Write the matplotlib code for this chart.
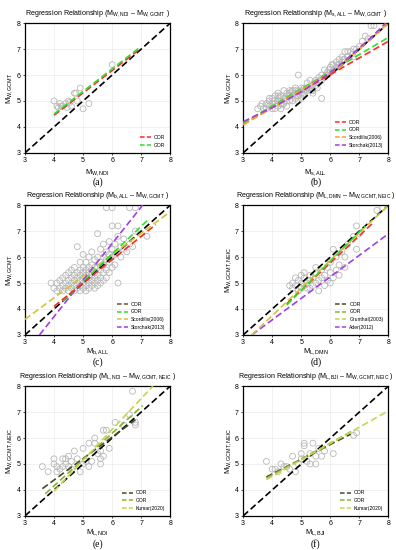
import matplotlib
matplotlib.use("Agg")
import matplotlib.pyplot as plt
from matplotlib.lines import Line2D

plt.rcParams['font.family'] = ['Liberation Sans', 'DejaVu Sans']
plt.rcParams['mathtext.fontset'] = 'custom'
plt.rcParams['mathtext.rm'] = 'Liberation Sans'
plt.rcParams['mathtext.it'] = 'Liberation Sans'

# ---- panel (a) MW,NDI vs MW,GCMT
a_x = [4.0, 4.1, 4.15, 4.2, 4.25, 4.3, 4.4, 4.45, 4.5, 4.55, 4.6, 4.7, 4.75, 4.8, 4.9, 5.0, 5.2, 6.0]
a_y = [5.0, 4.8, 4.75, 4.9, 4.8, 4.8, 4.9, 4.75, 5.0, 4.95, 4.8, 5.3, 5.3, 5.0, 5.5, 4.7, 4.9, 6.4]
a_oor = ([4.0, 6.9], [4.45, 6.95])
a_gor = ([4.0, 6.9], [4.5, 7.02])

# ---- panel (b) Ms,ALL vs MW,GCMT
b_x = [3.5, 3.6, 3.7, 3.8, 3.8, 3.9, 3.9, 4.0, 4.0, 4.0, 4.1, 4.1, 4.1, 4.2, 4.2, 4.2,
       4.3, 4.3, 4.3, 4.3, 4.4, 4.4, 4.4, 4.5, 4.5, 4.5, 4.5, 4.6, 4.6, 4.6, 4.7, 4.7,
       4.7, 4.8, 4.8, 4.8, 4.9, 4.9, 4.9, 5.0, 5.0, 5.0, 5.1, 5.1, 5.2, 5.2, 5.3, 5.3,
       5.4, 5.4, 5.5, 5.5, 5.6, 5.6, 5.7, 5.7, 5.8, 5.8, 5.9, 5.9, 6.0, 6.0, 6.1, 6.1,
       6.2, 6.2, 6.3, 6.3, 6.4, 6.4, 6.5, 6.5, 6.6, 6.7, 6.8, 6.9, 7.0, 7.1, 7.2, 7.4,
       7.5, 4.9, 5.7, 3.9, 4.2, 4.6, 4.8, 5.0, 5.2, 5.4, 6.6, 6.8, 7.3,
       3.65, 3.85, 4.05, 4.25, 4.35, 4.55, 4.65, 4.85, 4.95, 5.05, 5.15, 5.25, 5.35,
       5.45, 5.55, 5.65, 5.85, 5.95, 6.05, 6.25, 6.45, 6.75]
b_y = [4.7, 4.8, 4.7, 4.9, 4.7, 5.0, 4.8, 5.1, 4.9, 4.7, 5.2, 4.9, 4.7, 5.3, 5.0, 4.8,
       5.2, 5.0, 4.9, 4.7, 5.4, 5.1, 4.9, 5.3, 5.1, 5.0, 4.8, 5.4, 5.2, 5.0, 5.4, 5.2,
       5.0, 5.5, 5.3, 5.1, 5.4, 5.2, 5.0, 5.5, 5.3, 5.1, 5.5, 5.3, 5.7, 5.4, 5.8, 5.5,
       5.6, 5.4, 5.8, 5.6, 5.9, 5.7, 6.0, 5.8, 6.2, 5.9, 6.1, 6.0, 6.3, 6.1, 6.4, 6.2,
       6.5, 6.3, 6.6, 6.4, 6.7, 6.5, 6.9, 6.6, 6.9, 6.9, 7.0, 7.0, 7.1, 7.3, 7.5, 7.9,
       7.9, 6.0, 5.1, 5.1, 5.2, 5.3, 5.4, 5.4, 5.5, 5.3, 6.7, 6.7, 7.4,
       4.9, 4.85, 5.0, 5.15, 4.85, 5.2, 5.35, 5.2, 5.35, 5.25, 5.45, 5.5, 5.4,
       5.7, 5.5, 5.8, 6.0, 6.2, 6.4, 6.4, 6.6, 6.8]
b_oor = ([3, 8], [4.1, 7.3])
b_gor = ([3, 8], [4.15, 7.45])
b_scord = ([3, 6.1, 6.2, 8], [4.08, 6.16, 6.22, 8.0])
b_storc = ([3, 4, 5, 6, 6.5, 7, 7.5, 7.9], [4.2, 4.75, 5.35, 6.1, 6.55, 7.05, 7.55, 8.0])

# ---- panel (c) mb,ALL vs MW,GCMT
c_x = [3.9, 4.0, 4.1, 4.1, 4.2, 4.2, 4.3, 4.3, 4.3, 4.4, 4.4, 4.4, 4.5, 4.5, 4.5, 4.5,
       4.6, 4.6, 4.6, 4.6, 4.7, 4.7, 4.7, 4.7, 4.7, 4.8, 4.8, 4.8, 4.8, 4.8, 4.9, 4.9,
       4.9, 4.9, 4.9, 4.9, 5.0, 5.0, 5.0, 5.0, 5.0, 5.0, 5.1, 5.1, 5.1, 5.1, 5.1, 5.1,
       5.2, 5.2, 5.2, 5.2, 5.2, 5.2, 5.3, 5.3, 5.3, 5.3, 5.3, 5.3, 5.4, 5.4, 5.4, 5.4,
       5.4, 5.4, 5.5, 5.5, 5.5, 5.5, 5.5, 5.5, 5.6, 5.6, 5.6, 5.6, 5.6, 5.7, 5.7, 5.7,
       5.7, 5.7, 5.8, 5.8, 5.8, 5.8, 5.8, 5.9, 5.9, 5.9, 5.9, 6.0, 6.0, 6.0, 6.0, 6.0,
       6.1, 6.1, 6.1, 6.2, 6.2, 6.2, 6.2, 6.3, 6.3, 6.4, 6.4, 6.5, 6.6, 6.6, 6.7, 6.8,
       6.8, 7.0, 7.2]
c_y = [5.0, 4.8, 4.7, 5.0, 4.8, 5.1, 4.7, 4.9, 5.2, 4.8, 5.0, 5.3, 4.7, 4.9, 5.1, 5.4,
       4.8, 5.0, 5.2, 5.5, 4.7, 4.9, 5.1, 5.3, 5.6, 4.8, 5.0, 5.2, 5.4, 6.4, 4.7, 4.9,
       5.1, 5.3, 5.5, 5.8, 4.8, 5.0, 5.2, 5.4, 5.6, 6.1, 4.7, 4.9, 5.1, 5.3, 5.5, 5.8,
       4.8, 5.0, 5.2, 5.4, 5.6, 6.0, 4.9, 5.1, 5.3, 5.5, 5.7, 6.2, 4.8, 5.0, 5.2, 5.4,
       5.6, 5.9, 4.9, 5.1, 5.3, 5.6, 6.0, 6.9, 5.0, 5.2, 5.5, 5.8, 6.3, 5.1, 5.4, 5.7,
       6.0, 6.5, 5.2, 5.5, 5.9, 6.2, 7.9, 5.4, 5.8, 6.1, 6.6, 5.6, 6.0, 6.3, 7.2, 7.9,
       5.7, 6.1, 6.5, 5.0, 6.2, 6.8, 7.2, 6.0, 6.4, 6.3, 6.7, 6.2, 6.5, 7.9, 6.4, 7.0,
       7.9, 6.9, 6.8]
c_oor = ([4.0, 7.5], [4.1, 7.25])
c_gor = ([4.3, 7.2], [4.3, 7.4])
c_scord = ([3, 8], [3.6, 7.75])
c_storc = ([3.5, 7.05], [3.0, 8.0])

# ---- panel (d) ML,DMN vs MW,GCMT,NEIC
d_x = [4.6, 4.7, 4.7, 4.8, 4.9, 4.9, 5.0, 5.0, 5.0, 5.1, 5.1, 5.1, 5.2, 5.2, 5.3, 5.3,
       5.4, 5.4, 5.5, 5.5, 5.6, 5.6, 5.7, 5.7, 5.8, 5.8, 5.9, 5.9, 6.0, 6.0, 6.0, 6.1,
       6.1, 6.2, 6.2, 6.3, 6.3, 6.4, 6.5, 6.5, 6.6, 6.8, 6.9, 6.9, 7.0, 7.6, 7.8, 5.5,
       5.3, 4.8]
d_y = [4.9, 4.8, 5.0, 4.9, 4.7, 5.1, 4.8, 5.0, 5.3, 4.9, 5.2, 5.4, 4.8, 5.0, 5.1, 5.3,
       4.9, 5.2, 5.0, 5.4, 4.7, 5.1, 5.2, 5.5, 4.9, 5.3, 5.1, 5.6, 5.0, 5.4, 5.8, 5.2,
       6.3, 5.5, 6.0, 5.3, 5.7, 6.2, 5.6, 6.0, 6.5, 6.8, 7.2, 6.3, 6.9, 7.8, 7.9, 5.6,
       4.8, 5.2]
d_oor = ([4.5, 7.5], [4.2, 7.35])
d_gor = ([4.5, 7.2], [4.15, 7.2])
d_grun = ([3.3, 8], [3.0, 8.0])
d_ader = ([3.3, 8], [3.0, 6.9])

# ---- panel (e) ML,NDI vs MW,GCMT,NEIC
e_x = [3.6, 3.8, 4.0, 4.0, 4.1, 4.1, 4.2, 4.3, 4.3, 4.4, 4.5, 4.5, 4.6, 4.7, 4.8, 4.9,
       5.0, 5.0, 5.1, 5.2, 5.2, 5.4, 5.5, 5.6, 5.6, 5.7, 5.7, 5.8, 6.1, 6.4, 6.6, 6.7,
       6.8, 6.8, 5.4, 5.9, 4.6, 4.4, 5.3, 5.6]
e_y = [4.9, 4.7, 5.2, 5.0, 4.9, 4.7, 4.8, 5.2, 4.9, 5.0, 5.3, 4.9, 5.1, 5.5, 5.2, 4.7,
       5.6, 5.0, 5.1, 4.9, 5.8, 6.0, 5.4, 5.2, 5.5, 5.3, 6.3, 6.3, 6.6, 6.5, 6.9, 7.8,
       6.5, 6.6, 5.8, 5.6, 4.8, 5.2, 5.1, 5.0]
e_oor = ([3.6, 6.8], [4.05, 6.7])
e_gor = ([3.7, 7.05], [3.85, 7.25])
e_kum = ([4.0, 7.4], [3.95, 8.0])

# ---- panel (f) ML,BJI vs MW,GCMT,NEIC
f_x = [3.8, 4.0, 4.1, 4.2, 4.3, 4.5, 4.6, 4.7, 4.8, 4.9, 5.0, 5.1, 5.1, 5.2, 5.3, 5.4,
       5.5, 5.6, 5.7, 5.8, 6.1, 6.8, 6.9, 5.3, 5.5, 4.4, 5.0]
f_y = [5.1, 4.8, 4.8, 4.7, 5.0, 4.9, 4.8, 5.3, 4.7, 5.0, 5.4, 5.8, 5.7, 5.1, 5.0, 5.8,
       5.3, 5.6, 5.3, 5.5, 5.4, 6.1, 6.2, 5.4, 5.0, 4.9, 5.2]
f_oor = ([3.8, 6.7], [4.5, 6.15])
f_gor = ([3.8, 6.8], [4.45, 6.3])
f_kum = ([3.8, 8.0], [4.4, 7.05])

RED = '#ff2a2a'
GREEN = '#2ee02e'
ORANGE = '#ffa02a'
PURPLE = '#a040e0'
YELLOW = '#cfc53a'
OLIVE = '#4a4a22'
YGREEN = '#84b53a'
LYELLOW = '#c8d44a'

panels = [
    dict(x=a_x, y=a_y, xl=r'$\mathrm{M_{W,NDI}}$', yl=r'$\mathrm{M_{W,GCMT}}$',
         title=r'Regression Relationship ($\mathrm{M_{W,NDI}}$ – $\mathrm{M_{W,GCMT}}$ )',
         lines=[(a_oor, RED), (a_gor, GREEN)],
         leg=[('OOR', RED), ('GOR', GREEN)], tag='(a)'),
    dict(x=b_x, y=b_y, xl=r'$\mathrm{M_{s,ALL}}$', yl=r'$\mathrm{M_{W,GCMT}}$',
         title=r'Regression Relationship ($\mathrm{M_{s,ALL}}$ – $\mathrm{M_{W,GCMT}}$ )',
         lines=[(b_oor, RED), (b_gor, GREEN), (b_scord, ORANGE), (b_storc, PURPLE)],
         leg=[('OOR', RED), ('GOR', GREEN), ('Scordilis(2006)', ORANGE), ('Storchak(2013)', PURPLE)],
         tag='(b)'),
    dict(x=c_x, y=c_y, xl=r'$\mathrm{M_{b,ALL}}$', yl=r'$\mathrm{M_{W,GCMT}}$',
         title=r'Regression Relationship ($\mathrm{M_{b,ALL}}$ – $\mathrm{M_{W,GCMT}}$ )',
         lines=[(c_scord, YELLOW), (c_storc, PURPLE), (c_gor, GREEN), (c_oor, RED)],
         leg=[('OOR', '#6e5430'), ('GOR', GREEN), ('Scordilis(2006)', YELLOW), ('Storchak(2013)', PURPLE)],
         tag='(c)'),
    dict(x=d_x, y=d_y, xl=r'$\mathrm{M_{L,DMN}}$', yl=r'$\mathrm{M_{W,GCMT,NEIC}}$',
         title=r'Regression Relationship ($\mathrm{M_{L,DMN}}$ – $\mathrm{M_{W,GCMT,NEIC}}$ )',
         lines=[(d_ader, PURPLE), (d_grun, YELLOW), (d_oor, RED), (d_gor, GREEN)],
         leg=[('OOR', OLIVE), ('GOR', YGREEN), ('Grunthal(2003)', LYELLOW), ('Ader(2012)', PURPLE)],
         tag='(d)'),
    dict(x=e_x, y=e_y, xl=r'$\mathrm{M_{L,NDI}}$', yl=r'$\mathrm{M_{W,GCMT,NEIC}}$',
         title=r'Regression Relationship ($\mathrm{M_{L,NDI}}$ – $\mathrm{M_{W,GCMT,NEIC}}$ )',
         lines=[(e_oor, OLIVE), (e_gor, YGREEN), (e_kum, LYELLOW)],
         leg=[('OOR', OLIVE), ('GOR', YGREEN), ('Kumar(2020)', LYELLOW)], tag='(e)'),
    dict(x=f_x, y=f_y, xl=r'$\mathrm{M_{L,BJI}}$', yl=r'$\mathrm{M_{W,GCMT,NEIC}}$',
         title=r'Regression Relationship ($\mathrm{M_{L,BJI}}$ – $\mathrm{M_{W,GCMT,NEIC}}$ )',
         lines=[(f_oor, OLIVE), (f_gor, YGREEN), (f_kum, LYELLOW)],
         leg=[('OOR', OLIVE), ('GOR', YGREEN), ('Kumar(2020)', LYELLOW)], tag='(f)'),
]

fig = plt.figure(figsize=(3.96, 5.5), dpi=100)
lefts = [0.063, 0.614]
bottoms = [0.722, 0.391, 0.062]
tag_px = [182, 362, 544]   # vertical position of the (a)...(f) labels
xlab_pad = [2.5, 0.0, 0.0]
dash = (4, 2)

for i, p in enumerate(panels):
    row = i // 2
    ax = fig.add_axes([lefts[i % 2], bottoms[row], 0.367, 0.236])
    ax.grid(True, color='#e6e6e6', linewidth=0.4)
    ax.set_axisbelow(True)
    ax.scatter(p['x'], p['y'], s=18, facecolors='none', edgecolors='#b8b8b8', linewidths=0.6, zorder=2)
    ax.plot([3, 8], [3, 8], color='black', lw=1.2, ls=(0, dash), zorder=3)
    for (lx, ly), col in p['lines']:
        ax.plot(lx, ly, color=col, lw=1.2, ls=(0, dash), zorder=4)
    ax.set_xlim(3, 8)
    ax.set_ylim(3, 8)
    ax.set_xticks([3, 4, 5, 6, 7, 8])
    ax.set_yticks([3, 4, 5, 6, 7, 8])
    ax.tick_params(labelsize=5, length=1.5, width=0.5, pad=1.5)
    for s in ax.spines.values():
        s.set_linewidth(0.9)
    ax.set_xlabel(p['xl'], fontsize=5.5, labelpad=xlab_pad[row])
    ax.set_ylabel(p['yl'], fontsize=5.5, labelpad=1)
    ax.set_title(p['title'], fontsize=5.1, pad=6)
    handles = [Line2D([0], [0], color=c, lw=1.1, ls=(0, (3, 1.5))) for _, c in p['leg']]
    ax.legend(handles, [l for l, _ in p['leg']], loc='lower right', fontsize=3.6,
              frameon=False, handlelength=2.2, handletextpad=0.6, labelspacing=0.55,
              borderaxespad=0.6)
    bb = ax.get_position()
    fig.text((bb.x0 + bb.x1) / 2, 1 - tag_px[row] / 550, p['tag'], ha='center', va='center',
             fontsize=7, family='Liberation Serif')

fig.savefig('out.png', dpi=100)
